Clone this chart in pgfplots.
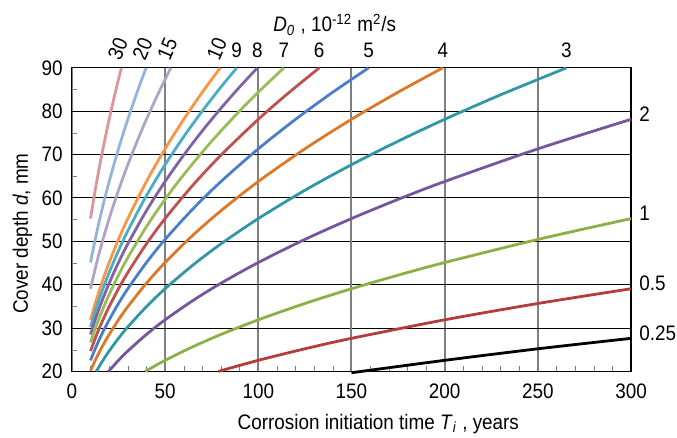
\documentclass[border=0pt]{standalone}
\usepackage{fontspec}
\setmainfont{Liberation Sans}[FakeStretch=0.9]
\usepackage{pgfplots}
\pgfplotsset{compat=1.18}

\definecolor{c30}{RGB}{217,150,155}
\definecolor{c20}{RGB}{149,179,215}
\definecolor{c15}{RGB}{179,162,199}
\definecolor{c10}{RGB}{247,150,70}
\definecolor{c9}{RGB}{75,172,198}
\definecolor{c8}{RGB}{128,100,162}
\definecolor{c7}{RGB}{155,187,89}
\definecolor{c6}{RGB}{192,80,77}
\definecolor{c5}{RGB}{74,126,200}
\definecolor{c4}{RGB}{220,120,40}
\definecolor{c3}{RGB}{49,150,165}
\definecolor{c2}{RGB}{117,85,155}
\definecolor{c1}{RGB}{140,175,70}
\definecolor{c05}{RGB}{180,60,60}

% curve labels
\tikzset{
    toplab/.style={text=black, inner sep=0pt, anchor=base, yshift=5pt},
    rotlab/.style={text=black, inner sep=0pt, xshift=-1.75pt, yshift=9.5pt, rotate=67},
    rightlab/.style={text=black, inner sep=0pt, anchor=base west, xshift=3.5pt, yshift=-1pt},
}

\begin{document}
\fontsize{10.5}{12}\selectfont
\begin{tikzpicture}
\begin{axis}[
    scale only axis,
    width=280pt, height=152pt,
    xmin=0, xmax=300, ymin=20, ymax=90,
    xtick={0,50,100,200,250,300},
    extra x ticks={150},
    extra x tick style={grid style={black, line width=0.5pt}},
    minor xtick={10,20,...,290},
    ytick={20,30,...,90},
    minor ytick={25,35,...,85},
    tick pos=left, tick align=inside,
    major tick length=0pt, minor tick length=2.5pt,
    grid=major,
    x grid style={gray, line width=1pt},
    y grid style={black, line width=0.5pt},
    axis line style={black, line width=0.6pt},
    /pgf/number format/assume math mode=true,
    ticklabel style={font=\fontsize{10.5}{12}\selectfont},
    xticklabel style={yshift=-2.5pt},
    yticklabel style={xshift=-1pt},
    xlabel={Corrosion initiation time \textit{T}\textsubscript{\textit{i}} , years},
    ylabel={Cover depth \textit{d}, mm},
    every axis x label/.style={at={(rel axis cs:0.548,0)}, anchor=base,
        yshift=-29pt, inner sep=0pt, font=\fontsize{10.5}{12}\selectfont},
    every axis y label/.style={at={(rel axis cs:0,0.454)}, rotate=90, anchor=base,
        yshift=22pt, inner sep=0pt, font=\fontsize{10.5}{12}\selectfont},
    clip=false,
    every axis plot/.append style={line width=1.4pt, smooth},
]
\addplot[c30] coordinates {(10,55.25) (12,60.53) (14,65.38) (16,69.89) (18,74.13) (20,78.14) (22,81.95) (24,85.60) (26.53,90)}
  node[pos=1, rotlab] {30};
\addplot[c20] coordinates {(10,45.11) (13,51.44) (16,57.07) (20,63.80) (25,71.33) (30,78.14) (35,84.40) (39.8,90)}
  node[pos=1, rotlab] {20};
\addplot[c15] coordinates {(10,39.07) (13,44.55) (16,49.42) (20,55.25) (25,61.77) (30,67.67) (35,73.09) (40,78.14) (46,83.79) (53.07,90)}
  node[pos=1, rotlab] {15};
\addplot[c10] coordinates {(10,31.90) (13,36.37) (16,40.35) (20,45.11) (25,50.44) (30,55.25) (40,63.80) (50,71.33) (60,78.14) (70,84.40) (79.6,90)}
  node[pos=1, rotlab] {10};
\addplot[c9] coordinates {(10,30.26) (13,34.51) (16,38.28) (20,42.80) (25,47.85) (30,52.42) (40,60.53) (50,67.67) (60,74.13) (70,80.07) (80,85.60) (88.44,90)}
  node[pos=1, toplab] {9};
\addplot[c8] coordinates {(10,28.53) (13,32.53) (16,36.09) (20,40.35) (25,45.11) (30,49.42) (40,57.07) (50,63.80) (60,69.89) (70,75.49) (80,80.70) (90,85.60) (99.5,90)}
  node[pos=1, toplab] {8};
\addplot[c7] coordinates {(10,26.69) (13,30.43) (16,33.76) (20,37.74) (25,42.20) (30,46.23) (40,53.38) (50,59.68) (60,65.38) (75,73.09) (90,80.07) (100,84.40) (113.7,90)}
  node[pos=1, toplab] {7};
\addplot[c6] coordinates {(10,24.71) (13,28.17) (16,31.26) (20,34.94) (25,39.07) (30,42.80) (40,49.42) (50,55.25) (65,63.00) (80,69.89) (100,78.14) (115,83.79) (132.7,90)}
  node[pos=1, toplab] {6};
\addplot[c5] coordinates {(10,22.56) (13,25.72) (16,28.53) (20,31.90) (25,35.67) (30,39.07) (40,45.11) (50,50.44) (65,57.51) (80,63.80) (100,71.33) (120,78.14) (140,84.40) (159.2,90)}
  node[pos=1, toplab] {5};
\addplot[c4] coordinates {(10,20.18) (13,23.00) (16,25.52) (20,28.53) (25,31.90) (30,34.94) (40,40.35) (50,45.11) (65,51.44) (80,57.07) (100,63.80) (125,71.33) (150,78.14) (175,84.40) (199,90)}
  node[pos=1, toplab] {4};
\addplot[c3] coordinates {(13.1,20) (16,22.10) (20,24.71) (25,27.63) (30,30.26) (40,34.94) (50,39.07) (65,44.55) (80,49.42) (100,55.25) (125,61.77) (150,67.67) (175,73.09) (200,78.14) (230,83.79) (265.3,90)}
  node[pos=1, toplab] {3};
\addplot[c2] coordinates {(19.65,20) (25,22.56) (30,24.71) (40,28.53) (50,31.90) (65,36.37) (80,40.35) (100,45.11) (125,50.44) (150,55.25) (175,59.68) (200,63.80) (250,71.33) (300,78.14)}
  node[pos=1, rightlab] {2};
\addplot[c1] coordinates {(39.3,20) (50,22.56) (65,25.72) (80,28.53) (100,31.90) (125,35.67) (150,39.07) (175,42.20) (200,45.11) (250,50.44) (300,55.25)}
  node[pos=1, rightlab] {1};
\addplot[c05] coordinates {(78.6,20) (100,22.56) (125,25.22) (150,27.63) (200,31.90) (250,35.67) (300,39.07)}
  node[pos=1, rightlab] {0.5};
\addplot[black] coordinates {(150,19.7) (200,22.56) (250,25.22) (300,27.63)}
  node[pos=1, rightlab] {0.25};
\node[anchor=base, inner sep=0pt] at (rel axis cs:0.47,1) [yshift=18pt]
  {\textit{D}\textsubscript{\textit{0}} , 10\textsuperscript{-12} m\textsuperscript{2}/s};
\end{axis}
\pgfresetboundingbox
\path ([shift={(-36pt,-33pt)}]current axis.south west)
  rectangle ([shift={(23pt,34pt)}]current axis.north east);
\end{tikzpicture}
\end{document}
